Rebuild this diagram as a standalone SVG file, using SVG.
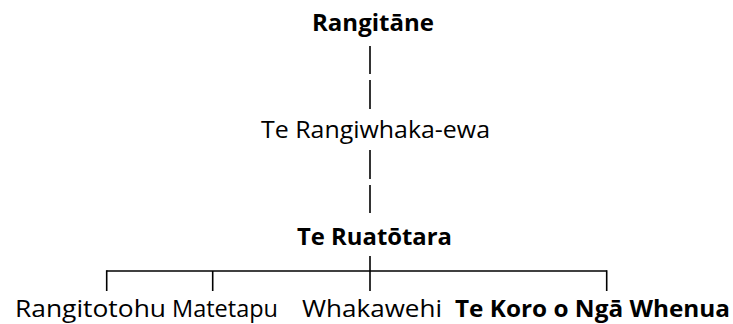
<svg xmlns="http://www.w3.org/2000/svg" width="733" height="324" viewBox="0 0 733 324">
<style>
.t{font-family:"Open Sans","Noto Sans","Liberation Sans",sans-serif;font-size:24px;fill:#000}
.b{font-weight:bold}
.c line{stroke:#000;stroke-width:1.6}
</style>
<rect width="733" height="324" fill="#fff"/>
<g class="c" id="connectors">
<line x1="370" y1="46" x2="370" y2="74"/>
<line x1="370" y1="80" x2="370" y2="109"/>
<line x1="370" y1="150" x2="370" y2="179"/>
<line x1="370" y1="185" x2="370" y2="213"/>
<line x1="370" y1="256" x2="370" y2="291"/>
<line x1="106.7" y1="271" x2="606.7" y2="271"/>
<line x1="106.7" y1="270.2" x2="106.7" y2="291"/>
<line x1="212.7" y1="271" x2="212.7" y2="291"/>
<line x1="606.7" y1="270.2" x2="606.7" y2="291"/>
</g>
<g id="rangitane"><text class="t b" x="312" y="31" textLength="122" lengthAdjust="spacingAndGlyphs">Rangitāne</text></g>
<g id="terangiwhaka"><text class="t" x="261" y="138" textLength="229" lengthAdjust="spacingAndGlyphs">Te Rangiwhaka-ewa</text></g>
<g id="teruatotara"><text class="t b" x="297" y="245" textLength="155" lengthAdjust="spacingAndGlyphs">Te Ruatōtara</text></g>
<g id="rangitotohu"><text class="t" x="15" y="317" textLength="151" lengthAdjust="spacingAndGlyphs">Rangitotohu</text></g>
<g id="matetapu"><text class="t" x="172" y="317" textLength="106" lengthAdjust="spacingAndGlyphs">Matetapu</text></g>
<g id="whakawehi"><text class="t" x="302" y="317" textLength="140" lengthAdjust="spacingAndGlyphs">Whakawehi</text></g>
<g id="tekoro"><text class="t b" x="455" y="317" textLength="275" lengthAdjust="spacingAndGlyphs">Te Koro o Ngā Whenua</text></g>
</svg>
